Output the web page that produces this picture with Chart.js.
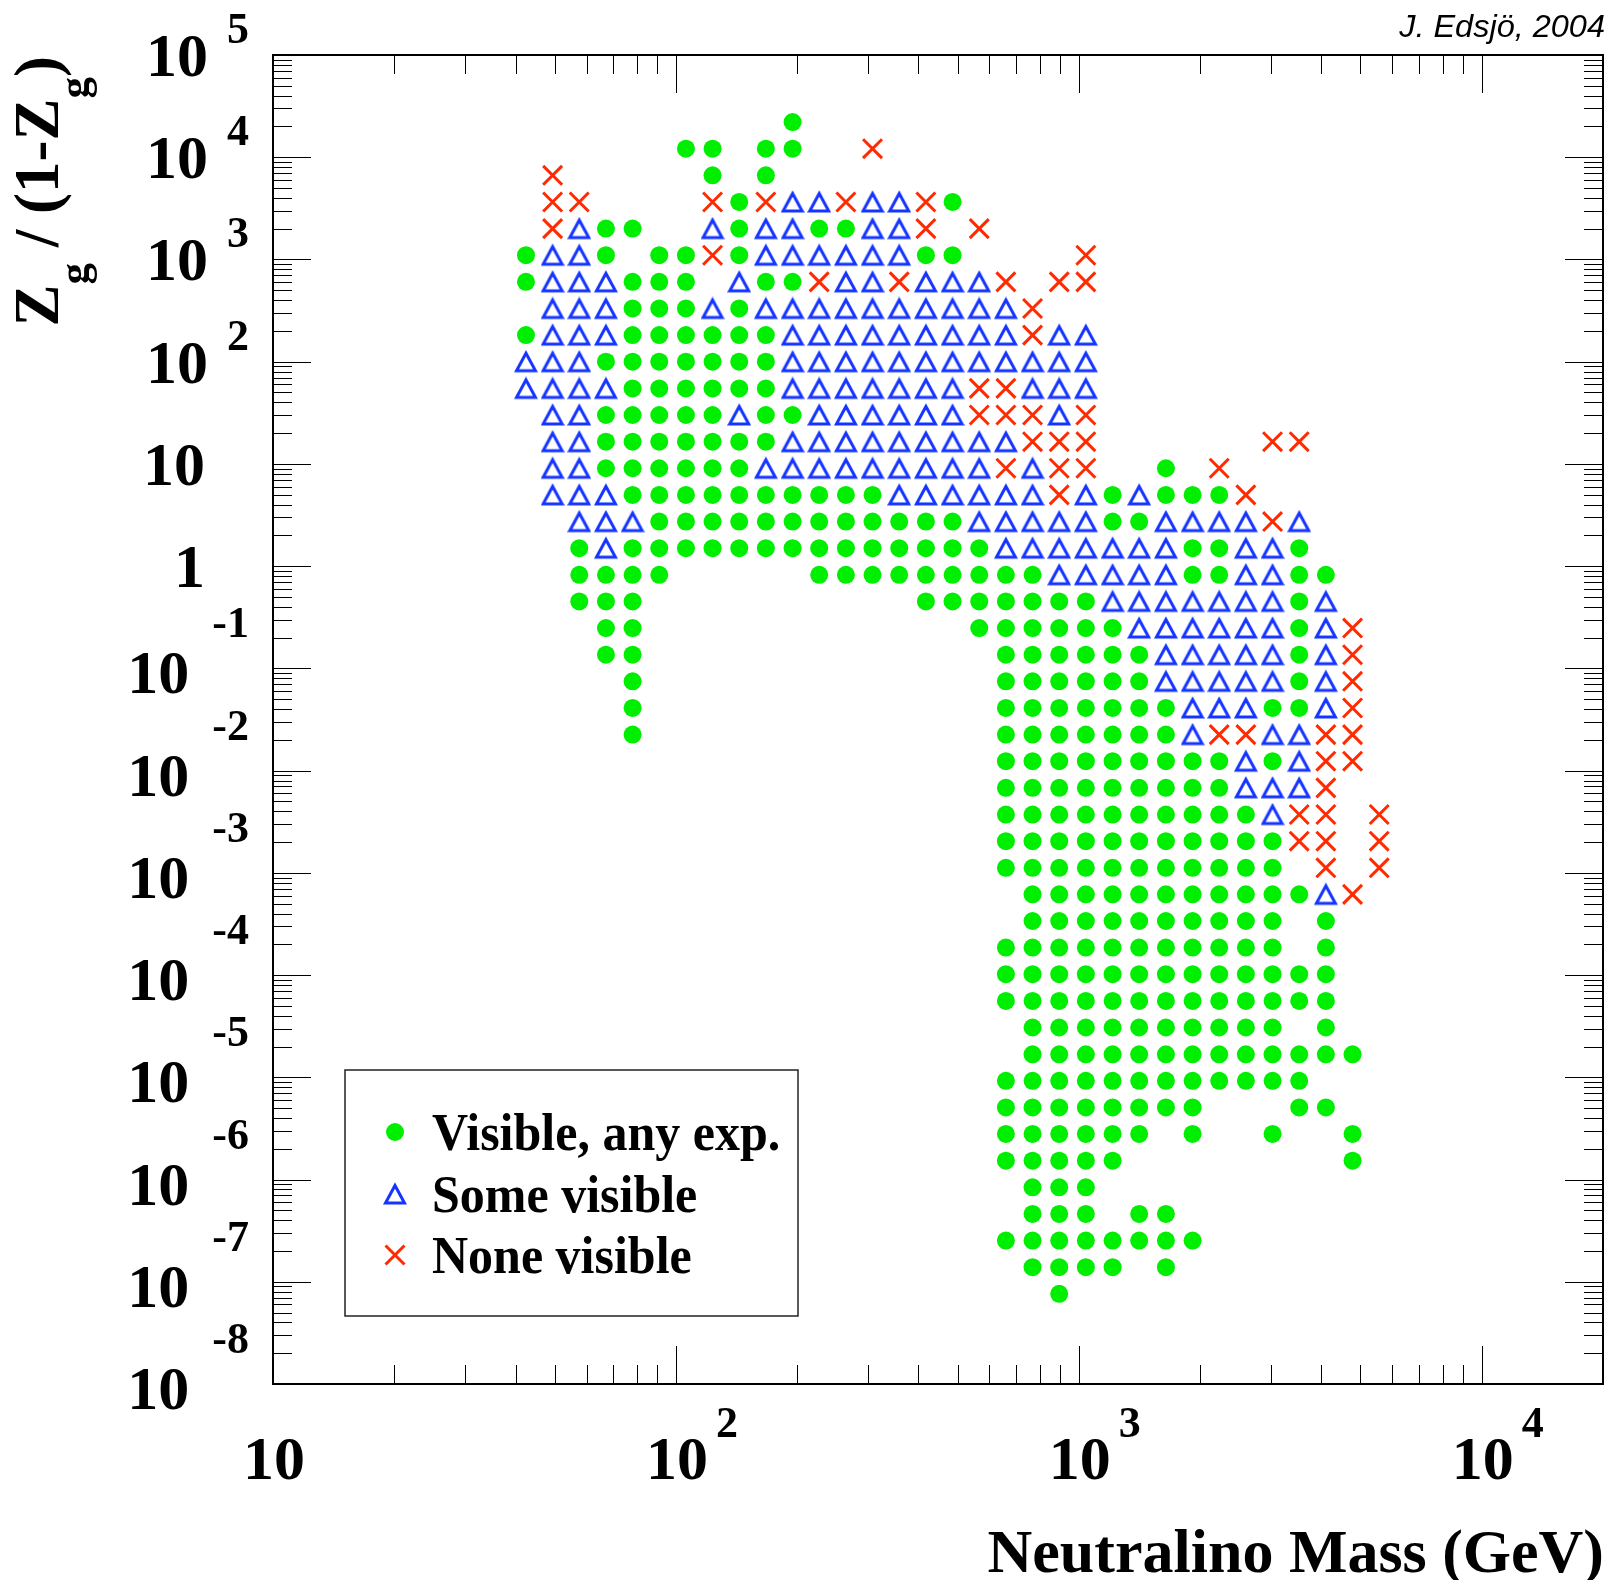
<!DOCTYPE html>
<html>
<head>
<meta charset="utf-8">
<script src="https://cdn.jsdelivr.net/npm/chart.js@4.4.1/dist/chart.umd.min.js"></script>
<style>
  body { margin: 0; background: #fff; }
  #plot { display: block; }
</style>
</head>
<body>
<canvas id="plot" width="1612" height="1580" style="width:1612px;height:1580px"></canvas>
<script>
// neutralino mass of each column of markers (GeV)
const massBins = [42.45, 49.43, 57.56, 67.04, 78.07, 90.92, 105.9, 123.3, 143.6, 167.2, 194.8,
    226.8, 264.2, 307.6, 358.3, 417.3, 486.0, 566.1, 659.2, 767.7, 894.1, 1041, 1213, 1412,
    1645, 1916, 2231, 2598, 3026, 3524, 4104, 4780, 5567];

// Zg/(1-Zg) of each row of markers, top row first
const ratioBins = [2.208e4, 1.212e4, 6653, 3651, 2004, 1100, 604.0, 331.5, 182.0, 99.9, 54.8,
    30.1, 16.5, 9.07, 4.98, 2.73, 1.50, 0.823, 0.452, 0.248, 0.136, 7.47e-2, 4.10e-2, 2.25e-2,
    1.236e-2, 6.78e-3, 3.72e-3, 2.04e-3, 1.12e-3, 6.16e-4, 3.38e-4, 1.86e-4, 1.02e-4, 5.59e-5,
    3.07e-5, 1.68e-5, 9.25e-6, 5.08e-6, 2.79e-6, 1.53e-6, 8.40e-7, 4.61e-7, 2.53e-7, 1.39e-7, 7.62e-8];

// one string per row, one char per mass column
// g = visible any exp, b = some visible, r = none visible, . = nothing
const classGrid = [
    "..........g......................",
    "......gg.gg..r...................",
    ".r.....g.g.......................",
    ".rr....rgrbbrbbrg................",
    ".rbgg..bgbbggbbr.r...............",
    "gbbg.ggrgbbbbbbgg....r...........",
    "gbbbggg.bggrbbrbbbr.rr...........",
    ".bbbgggbgbbbbbbbbbbr.............",
    "gbbbggggggbbbbbbbbbrbb...........",
    "bbbgggggggbbbbbbbbbbbb...........",
    "bbbbggggggbbbbbbbrrbbb...........",
    ".bbgggggbggbbbbbbrrrbr...........",
    ".bbgggggggbbbbbbbbbrrr......rr...",
    ".bbggggggbbbbbbbbbrbrr..g.r......",
    ".bbbggggggggggbbbbbbrbgbgggr.....",
    "..bbbggggggggggggbbbbbggbbbbrb...",
    "..gbggggggggggggggbbbbbbbggbbg...",
    "..gggg.....gggggggggbbbbbggbbgg..",
    "..ggg..........gggggggbbbbbbbgb..",
    "...gg............ggggggbbbbbbgbr.",
    "...gg.............ggggggbbbbbgbr.",
    "....g.............ggggggbbbbbgbr.",
    "....g.............gggggggbbbggbr.",
    "....g.............gggggggbrrbbrr.",
    "..................gggggggggbgbrr.",
    "..................gggggggggbbbr..",
    "..................ggggggggggbrr.r",
    "..................gggggggggggrr.r",
    "..................ggggggggggg.r.r",
    "...................gggggggggggbr.",
    "...................gggggggggg.g..",
    "..................ggggggggggg.g..",
    "..................ggggggggggggg..",
    "..................ggggggggggggg..",
    "...................gggggggggg.g..",
    "...................ggggggggggggg.",
    "..................gggggggggggg...",
    "..................gggggggg...gg..",
    "..................gggggg.g..g..g.",
    "..................ggggg........g.",
    "...................ggg...........",
    "...................ggg.gg........",
    "..................gggggggg.......",
    "...................gggg.g........",
    "....................g............"
];

const seriesKeys = ['g', 'b', 'r'];
const seriesNames = ['Visible, any exp.', 'Some visible', 'None visible'];

const xTicks = [10, 100, 1000, 10000];
const yTicks = [1e5, 1e4, 1e3, 1e2, 1e1, 1, 1e-1, 1e-2, 1e-3, 1e-4, 1e-5, 1e-6, 1e-7, 1e-8];

const GREEN = '#00ee00';
const BLUE = '#1434ff';
const RED = '#ff2a00';
const SERIF = '"Liberation Serif", "Times New Roman", serif';

// open triangle like the ROOT marker
function makeTriangle() {
    const c = document.createElement('canvas');
    c.width = 24;
    c.height = 24;
    const t = c.getContext('2d');
    t.strokeStyle = BLUE;
    t.lineWidth = 3;
    t.beginPath();
    t.moveTo(12, 3.5);
    t.lineTo(21.5, 21);
    t.lineTo(2.5, 21);
    t.closePath();
    t.stroke();
    return c;
}
const triangle = makeTriangle();

const pts = { g: [], b: [], r: [] };
classGrid.forEach((row, j) => {
    for (let k = 0; k < row.length && k < massBins.length; k++) {
        const c = row[k];
        if (pts[c]) pts[c].push({ x: massBins[k], y: ratioBins[j] });
    }
});

const styles = {
    g: { pointStyle: 'circle', pointRadius: 9, pointBackgroundColor: GREEN, pointBorderWidth: 0, pointBorderColor: GREEN },
    b: { pointStyle: triangle, pointRadius: 11, pointBackgroundColor: BLUE, pointBorderColor: BLUE },
    r: { pointStyle: 'crossRot', pointRadius: 13.4, pointBorderWidth: 3, pointBorderColor: RED, pointBackgroundColor: RED }
};

function text(ctx, str, x, y, font, align, sx, sy) {
    ctx.save();
    ctx.translate(x, y);
    ctx.scale(sx || 1, sy || 1);
    ctx.font = font;
    ctx.textAlign = align;
    ctx.textBaseline = 'alphabetic';
    ctx.fillStyle = '#000';
    ctx.fillText(str, 0, 0);
    ctx.restore();
}

function logTicks(min, max) {
    const major = [], minor = [];
    for (let d = Math.floor(Math.log10(min)); d <= Math.ceil(Math.log10(max)); d++) {
        for (let m = 1; m <= 9; m++) {
            const v = m * Math.pow(10, d);
            if (v < min * 0.999 || v > max * 1.001) continue;
            (m === 1 ? major : minor).push(v);
        }
    }
    return { major, minor };
}

function drawMarker(ctx, key, x, y) {
    ctx.save();
    if (key === 'g') {
        ctx.fillStyle = GREEN;
        ctx.beginPath();
        ctx.arc(x, y, 9, 0, Math.PI * 2);
        ctx.fill();
    } else if (key === 'b') {
        ctx.drawImage(triangle, x - 12, y - 12);
    } else {
        const d = 13.4 * Math.SQRT1_2;
        ctx.strokeStyle = RED;
        ctx.lineWidth = 3;
        ctx.beginPath();
        ctx.moveTo(x - d, y - d); ctx.lineTo(x + d, y + d);
        ctx.moveTo(x - d, y + d); ctx.lineTo(x + d, y - d);
        ctx.stroke();
    }
    ctx.restore();
}

const rootFrame = {
    id: 'rootFrame',
    beforeDatasetsDraw(chart) {
        const { ctx, chartArea: a, scales } = chart;
        const xs = scales.x, ys = scales.y;
        ctx.save();
        ctx.strokeStyle = '#000';
        ctx.lineWidth = 1;

        const xt = logTicks(xs.min, xs.max);
        const yt = logTicks(ys.min, ys.max);
        ctx.beginPath();
        const tick = (list, len) => {
            list.forEach(v => {
                const px = Math.round(xs.getPixelForValue(v)) + 0.5;
                ctx.moveTo(px, a.bottom); ctx.lineTo(px, a.bottom - len);
                ctx.moveTo(px, a.top); ctx.lineTo(px, a.top + len);
            });
        };
        tick(xt.major, 38);
        tick(xt.minor, 19);
        const ytick = (list, len) => {
            list.forEach(v => {
                const py = Math.round(ys.getPixelForValue(v)) + 0.5;
                ctx.moveTo(a.left, py); ctx.lineTo(a.left + len, py);
                ctx.moveTo(a.right, py); ctx.lineTo(a.right - len, py);
            });
        };
        ytick(yt.major, 38);
        ytick(yt.minor, 19);
        ctx.stroke();

        ctx.lineWidth = 2;
        ctx.strokeRect(a.left, a.top, a.right - a.left, a.bottom - a.top);
        ctx.restore();
    },
    afterDraw(chart) {
        const { ctx, chartArea: a, scales } = chart;
        const xs = scales.x, ys = scales.y;
        const big = 'bold 62px ' + SERIF;
        const sup = 'bold 44px ' + SERIF;

        // y tick labels, ROOT style 10 with exponent above right
        yTicks.forEach(v => {
            const n = Math.round(Math.log10(v));
            const ty = ys.getPixelForValue(v);
            if (n === 1 || n === 0) {
                text(ctx, n === 1 ? '10' : '1', 205, ty + 21, big, 'right');
                return;
            }
            const e = String(n);
            ctx.font = sup;
            const w = ctx.measureText(e).width;
            text(ctx, e, 249, n > 0 ? ty - 12 : ty - 31, sup, 'right');
            text(ctx, '10', 249 - w - (n > 0 ? 19 : 23), n > 0 ? ty + 21 : ty + 25, big, 'right');
        });

        // x tick labels
        xTicks.forEach(v => {
            const n = Math.round(Math.log10(v));
            const tx = xs.getPixelForValue(v);
            text(ctx, '10', tx + 1, 1479, big, 'center');
            if (n > 1) text(ctx, String(n), tx + 40, 1437, sup, 'left');
        });

        // axis titles
        text(ctx, 'Neutralino Mass (GeV)', a.right + 1, 1572, 'bold 62px ' + SERIF, 'right');

        const main = 'bold 63px ' + SERIF;
        const sub = 'bold 43px ' + SERIF;
        const parts = [['Z', main, 0], ['g', sub, 30], [' / (1-Z', main, 0], ['g', sub, 30], [')', main, 0]];
        ctx.save();
        ctx.translate(58, a.top + 1);
        ctx.rotate(-Math.PI / 2);
        let total = 0;
        parts.forEach(p => { ctx.font = p[1]; total += ctx.measureText(p[0]).width; });
        let cx = -total;
        ctx.fillStyle = '#000';
        ctx.textBaseline = 'alphabetic';
        ctx.textAlign = 'left';
        parts.forEach(p => {
            ctx.font = p[1];
            ctx.fillText(p[0], cx, p[2]);
            cx += ctx.measureText(p[0]).width;
        });
        ctx.restore();

        // credit
        text(ctx, 'J. Edsj\u00f6, 2004', 1605, 37, 'italic 29px "Liberation Sans", Arial, sans-serif', 'right', 1.12, 1.05);

        // legend box
        ctx.save();
        ctx.strokeStyle = '#222';
        ctx.lineWidth = 1.5;
        ctx.strokeRect(345, 1070, 453, 246);
        ctx.restore();
        const rows = [1132, 1194, 1255];
        seriesKeys.forEach((key, i) => {
            drawMarker(ctx, key, 395, rows[i]);
            text(ctx, seriesNames[i], 432, rows[i] + 18, 'bold 50px ' + SERIF, 'left', 1, 1.06);
        });
    }
};

new Chart(document.getElementById('plot').getContext('2d'), {
    type: 'scatter',
    data: {
        datasets: seriesKeys.map((key, i) => Object.assign({
            label: seriesNames[i],
            data: pts[key]
        }, styles[key]))
    },
    options: {
        responsive: false,
        animation: false,
        events: [],
        layout: { autoPadding: false, padding: { left: 273, right: 9, top: 55, bottom: 196 } },
        scales: {
            x: { type: 'logarithmic', min: 10, max: 20000, display: false },
            y: { type: 'logarithmic', min: 1e-8, max: 1e5, display: false }
        },
        plugins: {
            legend: { display: false },
            tooltip: { enabled: false }
        }
    },
    plugins: [rootFrame]
});
</script>
</body>
</html>
